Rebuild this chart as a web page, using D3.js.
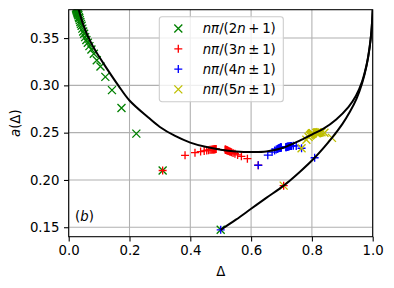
<!DOCTYPE html>
<html>
<head>
<meta charset="utf-8">
<script src="https://cdn.jsdelivr.net/npm/d3@7"></script>
<style>
  body { margin: 0; background: #fff; }
  svg text { font-family: "DejaVu Sans", sans-serif; fill: #000; }
</style>
</head>
<body>
<div class="chart"></div>
<script>
// DATA ------------------------------------

// n*pi/(2n+1)
const greenDelta = [0.5, 0.309, 0.2225, 0.1736, 0.1423, 0.1205, 0.1045, 0.0923, 0.0826, 0.0747,
    0.0682, 0.0628, 0.0581, 0.0541, 0.0507, 0.0476, 0.0449, 0.0425, 0.0403, 0.0383,
    0.0365, 0.0349, 0.0334, 0.0321, 0.0308, 0.0296, 0.0286, 0.0276, 0.0266, 0.0258, 0.0249, 0.0242];
const greenA = [0.1473, 0.210, 0.249, 0.276, 0.295, 0.309, 0.320, 0.3265, 0.3335, 0.338,
    0.3415, 0.345, 0.348, 0.351, 0.3545, 0.357, 0.360, 0.363, 0.365, 0.367,
    0.369, 0.371, 0.372, 0.374, 0.375, 0.376, 0.377, 0.378, 0.379, 0.380, 0.381, 0.382];

// n*pi/(3n-1) and n*pi/(3n+1)
const redDelta = [0.309, 0.3827, 0.4154, 0.4339, 0.4457, 0.454, 0.46, 0.4647, 0.4684, 0.4714,
    0.4739, 0.476, 0.4778, 0.4793, 0.4806, 0.4818, 0.4829, 0.4838, 0.4846,
    0.7071, 0.6235, 0.5878, 0.5681, 0.5556, 0.5469, 0.5406, 0.5358, 0.532, 0.529,
    0.5265, 0.5243, 0.5225, 0.5209, 0.5196, 0.5184, 0.5173, 0.5163, 0.5155, 0.5147];
const redA = [0.210, 0.226, 0.2288, 0.230, 0.2307, 0.2312, 0.2315, 0.2318, 0.232, 0.2321,
    0.2322, 0.2323, 0.2324, 0.2324, 0.2325, 0.2325, 0.2326, 0.2326, 0.2326,
    0.194, 0.2155, 0.2225, 0.225, 0.2265, 0.2277, 0.2285, 0.2292, 0.2297, 0.2301,
    0.2305, 0.2308, 0.2311, 0.2313, 0.2315, 0.2317, 0.2318, 0.2319, 0.232, 0.2321];

// n*pi/(4n-1) and n*pi/(4n+1)
const blueDelta = [0.5, 0.6235, 0.6549, 0.6691, 0.6773, 0.6826, 0.6862, 0.689, 0.6911, 0.6928,
    0.6941, 0.6953, 0.6962, 0.697, 0.6977, 0.6983, 0.6989, 0.6993,
    0.809, 0.766, 0.7485, 0.739, 0.7331, 0.729, 0.726, 0.7237, 0.7219, 0.7205,
    0.7193, 0.7183, 0.7175, 0.7168, 0.7162, 0.7156, 0.7151, 0.7147];
const blueA = [0.1473, 0.2155, 0.2262, 0.2295, 0.2312, 0.2322, 0.2328, 0.2332, 0.2335, 0.2337,
    0.2339, 0.234, 0.2341, 0.2342, 0.2343, 0.2343, 0.2344, 0.2344,
    0.2235, 0.2335, 0.236, 0.2362, 0.236, 0.2358, 0.2356, 0.2354, 0.2353, 0.2352,
    0.2351, 0.235, 0.2349, 0.2349, 0.2348, 0.2348, 0.2347, 0.2347];

// n*pi/(5n-1) and n*pi/(5n+1)
const yellowDelta = [0.7071, 0.766, 0.7818, 0.7891, 0.7934, 0.7961, 0.798, 0.7994, 0.8005, 0.8014, 0.8021, 0.8027,
    0.866, 0.8413, 0.8315, 0.8262, 0.823, 0.8208, 0.8191, 0.8179, 0.8169, 0.8161, 0.8154, 0.8149];
const yellowA = [0.194, 0.2335, 0.2425, 0.2455, 0.247, 0.2478, 0.2484, 0.2488, 0.2491, 0.2493, 0.2494, 0.2495,
    0.2445, 0.250, 0.2505, 0.2504, 0.2502, 0.2501, 0.25, 0.2499, 0.2498, 0.2498, 0.2497, 0.2497];

// black curves
const upperDelta = [0.033, 0.047, 0.066, 0.089, 0.125, 0.163, 0.20, 0.262, 0.30, 0.35, 0.40, 0.45, 0.50,
    0.55, 0.60, 0.65, 0.70, 0.728, 0.76, 0.80, 0.837, 0.88, 0.92, 0.945, 0.965, 0.98, 0.99, 0.996, 1.0];
const upperA = [0.38, 0.365, 0.35, 0.336, 0.318, 0.30, 0.284, 0.266, 0.256, 0.2465, 0.2395, 0.235, 0.232,
    0.2302, 0.2295, 0.230, 0.2335, 0.237, 0.2415, 0.248, 0.254, 0.264, 0.277, 0.289, 0.304, 0.322, 0.341, 0.358, 0.38];
const lowerDelta = [0.5, 0.55, 0.6, 0.65, 0.7071, 0.76, 0.809, 0.866, 0.90, 0.925, 0.947, 0.965, 0.98, 0.99, 0.996, 1.0];
const lowerA = [0.1473, 0.158, 0.1695, 0.181, 0.194, 0.2085, 0.2235, 0.2445, 0.259, 0.272, 0.286, 0.302, 0.321, 0.340, 0.358, 0.38];

const xTicks = [0.0, 0.2, 0.4, 0.6, 0.8, 1.0];
const yTicks = [0.15, 0.20, 0.25, 0.30, 0.35];
const legendDenoms = ["2", "3", "4", "5"];
const legendOps = ["+", "\u00b1", "\u00b1", "\u00b1"];

// CHART INIT ------------------------------

const margin = ({top: 9.7, right: 21.3, bottom: 51.3, left: 68.7}),
    width = 394 - margin.left - margin.right,
    height = 288 - margin.top - margin.bottom;

const svg = d3.select(".chart").append("svg")
    .attr("width", 394)
    .attr("height", 288)
    .append("g")
    .attr("transform", "translate(" + margin.left + "," + margin.top + ")");

const xScale = d3.scaleLinear().domain([0, 1]).range([0, width]);
const yScale = d3.scaleLinear().domain([0.14, 0.38]).range([height, 0]);

svg.append("clipPath").attr("id", "clip")
    .append("rect").attr("width", width).attr("height", height);

// grid
svg.selectAll(".gx").data(xTicks).enter().append("line")
    .attr("x1", d => xScale(d)).attr("x2", d => xScale(d))
    .attr("y1", 0).attr("y2", height)
    .attr("stroke", "#b0b0b0").attr("stroke-width", 1.07);
svg.selectAll(".gy").data(yTicks).enter().append("line")
    .attr("x1", 0).attr("x2", width)
    .attr("y1", d => yScale(d)).attr("y2", d => yScale(d))
    .attr("stroke", "#b0b0b0").attr("stroke-width", 1.07);

// axes
const xAxis = svg.append("g")
    .attr("transform", "translate(0," + height + ")")
    .call(d3.axisBottom(xScale).tickValues(xTicks).tickSize(4.7).tickPadding(4.5).tickFormat(d3.format(".1f")));
const yAxis = svg.append("g")
    .call(d3.axisLeft(yScale).tickValues(yTicks).tickSize(4.7).tickPadding(4.5).tickFormat(d3.format(".2f")));
[xAxis, yAxis].forEach(ax => {
    ax.select(".domain").remove();
    ax.selectAll("line").attr("stroke", "#000").attr("stroke-width", 1.07);
    ax.selectAll("text").attr("font-size", "13.3px").attr("font-family", "DejaVu Sans").attr("fill", "#000");
});

// markers
const xPath = "M-4,-4L4,4M-4,4L4,-4",
    plusPath = "M-4,0H4M0,-4V4";

const series = [
    {delta: greenDelta, a: greenA, color: "#008000", path: xPath},
    {delta: redDelta, a: redA, color: "#ff0000", path: plusPath},
    {delta: blueDelta, a: blueA, color: "#0000ff", path: plusPath},
    {delta: yellowDelta, a: yellowA, color: "#bfbf00", path: xPath}
];

const plotArea = svg.append("g").attr("clip-path", "url(#clip)");

series.forEach(s => {
    plotArea.append("g").selectAll("path")
        .data(d3.zip(s.delta, s.a))
        .enter().append("path")
        .attr("d", s.path)
        .attr("transform", d => "translate(" + xScale(d[0]) + "," + yScale(d[1]) + ")")
        .attr("fill", "none")
        .attr("stroke", s.color)
        .attr("stroke-width", 1.33);
});

const line = d3.line()
    .x(d => xScale(d[0]))
    .y(d => yScale(d[1]))
    .curve(d3.curveCatmullRom.alpha(0.5));

[[upperDelta, upperA], [lowerDelta, lowerA]].forEach(c => {
    plotArea.append("path")
        .attr("d", line(d3.zip(c[0], c[1])))
        .attr("fill", "none")
        .attr("stroke", "#000")
        .attr("stroke-width", 2);
});

// spines
svg.append("rect")
    .attr("width", width).attr("height", height)
    .attr("fill", "none").attr("stroke", "#000").attr("stroke-width", 1.07);

// labels
svg.append("text")
    .attr("x", width / 2).attr("y", 266)
    .attr("text-anchor", "middle")
    .attr("font-size", "13.3px")
    .text("\u0394");

const yl = svg.append("text")
    .attr("transform", "translate(" + (15 - margin.left) + "," + (height / 2) + ") rotate(-90)")
    .attr("text-anchor", "middle")
    .attr("dominant-baseline", "central")
    .attr("font-size", "13.3px");
yl.append("tspan").attr("font-style", "italic").text("a");
yl.append("tspan").text("(\u0394)");

const panel = svg.append("text")
    .attr("x", 75 - margin.left).attr("y", 221 - margin.top)
    .attr("font-size", "13.3px");
panel.append("tspan").text("(");
panel.append("tspan").attr("font-style", "italic").text("b");
panel.append("tspan").text(")");

// legend
const legend = svg.append("g")
    .attr("transform", "translate(" + (159.3 - margin.left) + "," + (16.7 - margin.top) + ")");
legend.append("rect")
    .attr("width", 124).attr("height", 85).attr("rx", 2.7)
    .attr("fill", "#fff").attr("fill-opacity", 0.8)
    .attr("stroke", "#cccccc").attr("stroke-width", 1.07);

series.forEach((s, i) => {
    const yy = 11.8 + i * 20.3;
    legend.append("path")
        .attr("d", s.path)
        .attr("transform", "translate(19," + yy + ")")
        .attr("fill", "none").attr("stroke", s.color).attr("stroke-width", 1.33);
    const t = legend.append("text")
        .attr("x", 43.4).attr("y", yy)
        .attr("dominant-baseline", "central")
        .attr("font-size", "13.3px");
    t.append("tspan").attr("font-style", "italic").text("n\u03c0");
    t.append("tspan").text("/(" + legendDenoms[i]);
    t.append("tspan").attr("font-style", "italic").text("n");
    t.append("tspan").text("\u2009" + legendOps[i] + "\u20091)");
});
</script>
</body>
</html>
